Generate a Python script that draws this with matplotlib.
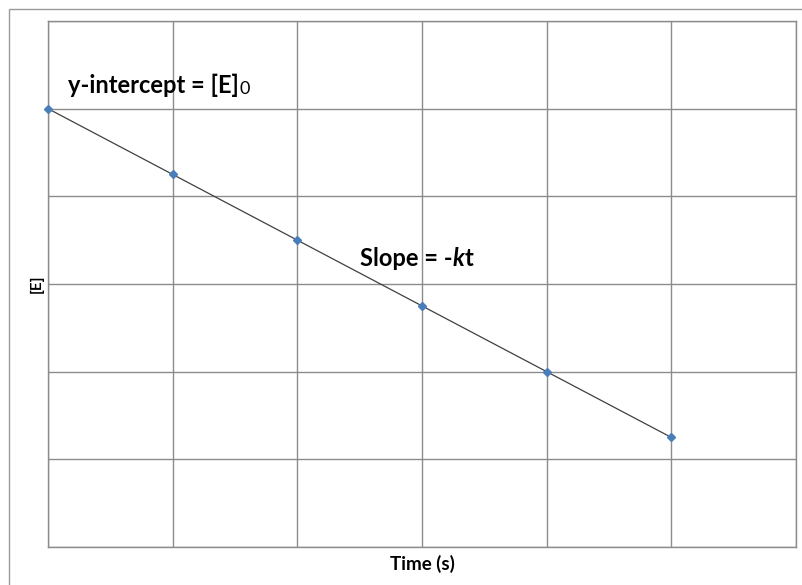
import matplotlib.pyplot as plt
from matplotlib.patches import Rectangle

# data (grid units)
time_s = [0, 1, 2, 3, 4, 5]
conc_E = [5.0, 4.25, 3.5, 2.75, 2.0, 1.25]
x_ticks = [0, 1, 2, 3, 4, 5, 6]
y_ticks = [0, 1, 2, 3, 4, 5, 6]

plt.rcParams['font.family'] = ['Lato', 'DejaVu Sans']

fig = plt.figure(figsize=(8.03, 5.85), dpi=100)
ax = fig.add_axes([48 / 803, 1 - 547 / 585, 748 / 803, 526 / 585])

# outer chart frame (cut off at right/bottom like the original)
fig.patches.append(Rectangle((9 / 803, -0.1), 1.2, 1 - 9 / 585 + 0.1,
                             transform=fig.transFigure, fill=False,
                             edgecolor='#9a9a9a', linewidth=1.0))

ax.plot(time_s, conc_E, color='#404040', linewidth=0.9, zorder=3,
        marker='D', markersize=4.5, markerfacecolor='#4a7ebb',
        markeredgecolor='#4a7ebb', clip_on=False)

ax.set_xlim(0, 6)
ax.set_ylim(0, 6)
ax.set_xticks(x_ticks)
ax.set_yticks(y_ticks)
ax.tick_params(length=0, labelbottom=False, labelleft=False)
ax.grid(True, color='#8c8c8c', linewidth=1.0)
ax.set_axisbelow(True)
for s in ax.spines.values():
    s.set_color('#8c8c8c')
    s.set_linewidth(1.0)

ax.set_xlabel('Time (s)', fontsize=13.5, fontweight='bold', labelpad=6)
ax.set_ylabel('[E]', fontsize=11, fontweight='bold', labelpad=3)

# annotations
t1 = ax.text(0.16, 5.18, 'y-intercept = [E]', fontsize=17, fontweight='bold',
             ha='left', va='baseline')
ax.annotate('0', xy=(1, 0), xycoords=t1, xytext=(0.5, 0),
            textcoords='offset points', fontsize=13, va='bottom')

t2 = ax.text(2.5, 3.21, 'Slope = -', fontsize=17, fontweight='bold',
             ha='left', va='baseline')
t3 = ax.annotate('k', xy=(1, 0), xycoords=t2, fontsize=17, fontweight='bold',
                 fontstyle='italic', va='bottom')
ax.annotate('t', xy=(1, 0), xycoords=t3, fontsize=17, fontweight='bold',
            va='bottom')

fig.savefig('out.png', dpi=100)
